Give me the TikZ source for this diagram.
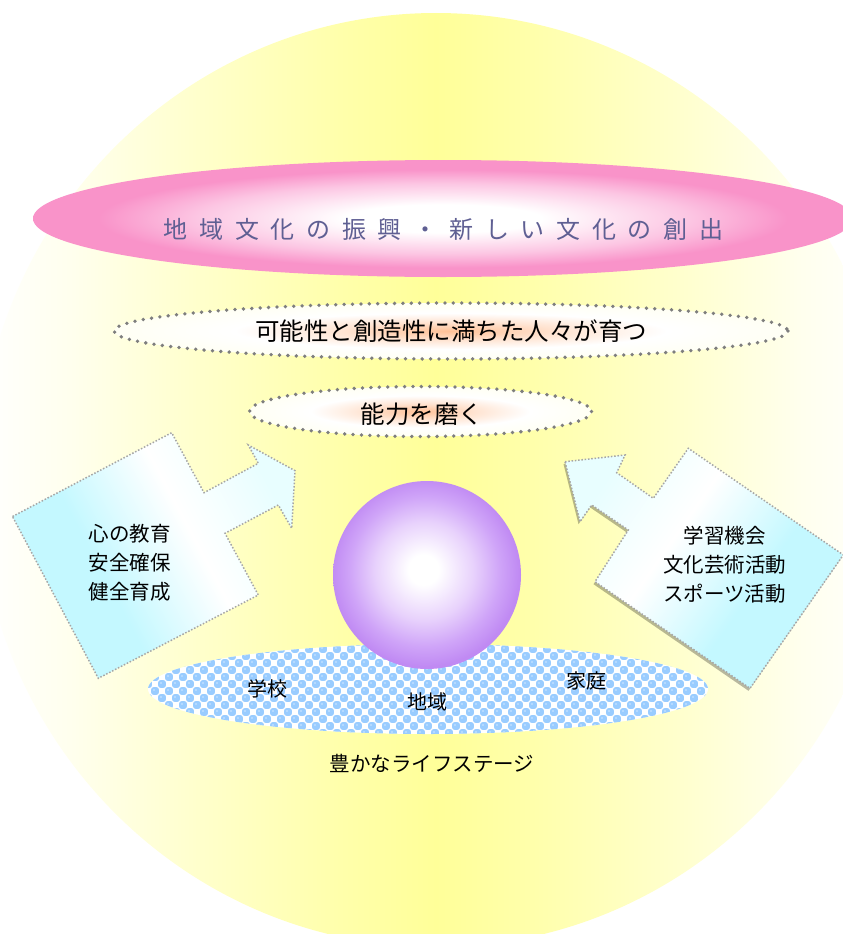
\documentclass[tikz,border=0pt]{standalone}
\usepackage{fontspec}
\setmainfont{Noto Sans CJK JP}
\definecolor{circY}{HTML}{FFFF99}
\definecolor{cYa}{HTML}{FFFFEE}
\definecolor{cYb}{HTML}{FFFFCC}
\definecolor{cYc}{HTML}{FFFFAA}
\definecolor{pinkE}{HTML}{F993C9}
\definecolor{pinkM}{HTML}{FCC6E3}
\definecolor{peachC}{HTML}{FFC197}
\definecolor{peachM}{HTML}{FFE4D2}
\definecolor{edgeW}{HTML}{FFFFF4}
\definecolor{sphE}{HTML}{C08AF3}
\definecolor{sphM}{HTML}{CFA4F8}
\definecolor{sphL}{HTML}{E8D2FC}
\definecolor{arC}{HTML}{C4F8FF}
\definecolor{arT}{HTML}{E8FEFF}
\definecolor{chkB}{HTML}{99CCFF}
\definecolor{chkL}{HTML}{BFDFFF}
\definecolor{titleC}{HTML}{5F5F93}
\definecolor{dotG}{HTML}{7E7E7E}
\definecolor{arrG}{HTML}{A6A6A6}
\pgfdeclareverticalshading{circS}{100bp}{color(0bp)=(white); color(25bp)=(white); color(30bp)=(cYa); color(37bp)=(cYb); color(45bp)=(cYc); color(50bp)=(circY); color(55bp)=(cYc); color(63bp)=(cYb); color(70bp)=(cYa); color(75bp)=(white); color(100bp)=(white)}
\pgfdeclareradialshading{pinkS}{\pgfpoint{0bp}{0bp}}{color(0bp)=(white); color(6bp)=(white); color(15bp)=(pinkM); color(21bp)=(pinkE); color(25bp)=(pinkE); color(50bp)=(pinkE)}
\pgfdeclareradialshading{peachS}{\pgfpoint{0bp}{0bp}}{color(0bp)=(peachC); color(8bp)=(peachM); color(16bp)=(white); color(25bp)=(edgeW); color(50bp)=(edgeW)}
\pgfdeclareradialshading{sphS}{\pgfpoint{-1bp}{1.5bp}}{color(0bp)=(white); color(4bp)=(white); color(13bp)=(sphL); color(20bp)=(sphM); color(25bp)=(sphE); color(50bp)=(sphE)}
\pgfdeclareverticalshading{arrowS}{100bp}{color(0bp)=(arC); color(25bp)=(arC); color(40bp)=(arC); color(58bp)=(white); color(75bp)=(arT); color(100bp)=(arT)}
\newcommand{\titlegap}{\hspace{11.7pt}}
\begin{document}
\begin{tikzpicture}[x=1pt,y=-1pt,
  dotline/.style={draw=dotG, line width=3.8pt, line cap=round, dash pattern=on 0pt off 8.4pt},
  arrline/.style={draw=arrG, line width=1.5pt, dash pattern=on 1.5pt off 1.8pt},
  txt/.style={inner sep=0pt, text=black}]
\useasboundingbox (0,0) rectangle (843,934);
\clip (0,0) rectangle (843,934);
\fill[white] (0,0) rectangle (843,934);
% big yellow disc
\shade[shading=circS, shading angle=90] (436,480) ellipse (458 and 467);
% pink top ellipse
\shade[shading=pinkS] (443,218.5) ellipse (410 and 58.5);
\node[txt, text=titleC, font=\fontsize{24}{28}\selectfont] (title) at (443.5,229)
  {地\titlegap 域\titlegap 文\titlegap 化\titlegap の\titlegap 振\titlegap 興\titlegap ・\titlegap 新\titlegap し\titlegap い\titlegap 文\titlegap 化\titlegap の\titlegap 創\titlegap 出};
% dotted ellipses
\shadedraw[shading=peachS, dotline] (451,331) ellipse (337 and 28);
\node[txt, font=\fontsize{24.5}{28}\selectfont] (people) at (451,331) {可能性と創造性に満ちた人々が育つ};
\shadedraw[shading=peachS, dotline] (420.5,411.5) ellipse (171 and 25);
\node[txt, font=\fontsize{24.5}{28}\selectfont] (ability) at (422,414) {能力を磨く};
% left arrow
\shadedraw[shading=arrowS, shading angle=-62, arrline]
  (12.5,516.5) -- (171.7,432.7) -- (204,492.7) -- (258.3,463.3) -- (248.3,445) -- (295,470.7)
  -- (291.7,528.3) -- (278.3,505) -- (225,533.3) -- (258.3,595) -- (98.3,678.3) -- cycle;
% right arrow (shadow + body)
\fill[black, opacity=0.28, xshift=-1.5pt, yshift=-2.5pt]
  (565,461.7) -- (625,455) -- (616.7,472.7) -- (653.3,498.3) -- (688.3,448.3) -- (843.3,554.9)
  -- (750,688.3) -- (595,581.7) -- (628.3,530) -- (591.7,505) -- (580,521.7) -- cycle;
\shadedraw[shading=arrowS, shading angle=55, arrline]
  (565,461.7) -- (625,455) -- (616.7,472.7) -- (653.3,498.3) -- (688.3,448.3) -- (843.3,554.9)
  -- (750,688.3) -- (595,581.7) -- (628.3,530) -- (591.7,505) -- (580,521.7) -- cycle;
\node[txt, align=left, font=\fontsize{20.5}{29}\selectfont] (lefttext) at (129.5,563) {心の教育\\安全確保\\健全育成};
\node[txt, align=center, font=\fontsize{20.5}{29}\selectfont] (righttext) at (724.5,565) {学習機会\\文化芸術活動\\スポーツ活動};
% checkered ellipse
\begin{scope}
  \clip (428,689) ellipse (280 and 45);
  \fill[white] (140,640) rectangle (715,740);
  \foreach \i in {0,...,81}{\foreach \j in {0,...,14}{
    \pgfmathtruncatemacro{\chk}{mod(\i+\j,2)}
    \ifnum\chk=0
      \fill[chkB, rounded corners=2.2pt] (144.2+7*\i, 638.2+7*\j) rectangle +(7.6,7.6);
      \fill[chkL] (147+7*\i, 641+7*\j) circle (1.2);
    \fi}}
\end{scope}
% sphere
\shade[shading=sphS] (427,575) circle (94);
% labels
\node[txt, font=\fontsize{20}{24}\selectfont] (school) at (267,689) {学校};
\node[txt, font=\fontsize{20}{24}\selectfont] (region) at (427,702) {地域};
\node[txt, font=\fontsize{20}{24}\selectfont] (home) at (586,681) {家庭};
\node[txt, font=\fontsize{20.5}{24}\selectfont] (life) at (432,763) {豊かなライフステージ};
\end{tikzpicture}
\end{document}
